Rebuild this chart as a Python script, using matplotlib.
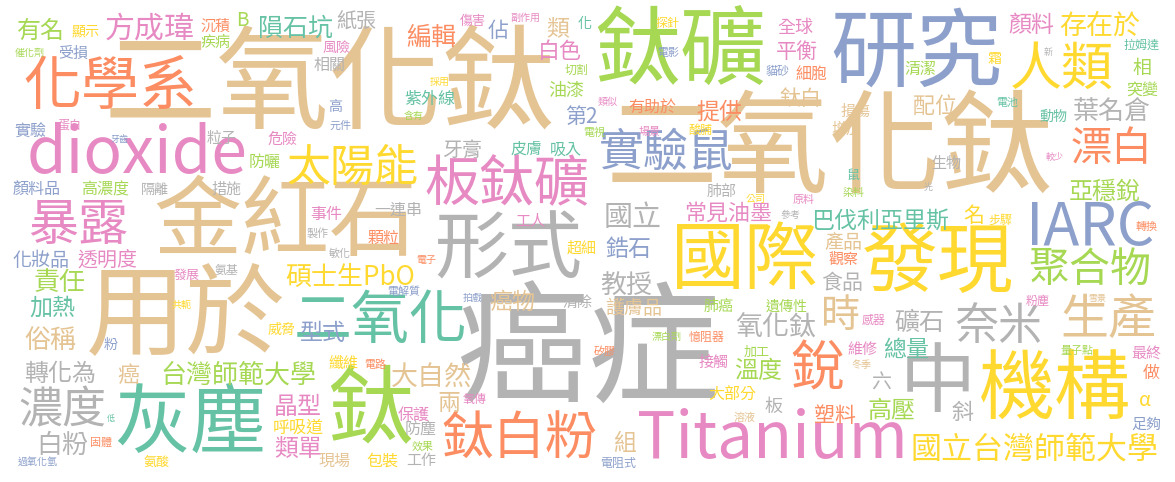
import matplotlib
matplotlib.use("Agg")
import matplotlib.pyplot as plt

# ---- data: words and their weights (font size in px) ----
words = [
    "二氧化鈦", "二氧化鈦", "癌症", "用於", "金紅石", "鈦礦", "研究", "鈦", "灰塵", "發現",
    "國際", "形式", "機構", "中", "Titanium", "dioxide", "IARC", "化學系", "二氧化", "板鈦礦",
    "銳", "人類", "鈦白粉", "暴露", "生產", "實驗鼠", "太陽能", "濃度", "奈米", "漂白",
    "聚合物", "時", "國立台灣師範大學", "方成瑋", "國立", "存在於", "大自然", "氧化鈦", "碩士生PbO", "葉名倉",
    "責任", "俗稱", "教授", "白粉", "台灣師範大學", "隕石坑", "編輯", "礦石", "有名", "轉化為",
    "亞穩銳", "溫度", "晶型", "類單", "高壓", "類", "顏料", "提供", "加熱", "型式",
    "鋯石", "癌物", "巴伐利亞里斯", "兩", "組", "總量", "白色", "配位", "常見油墨", "癌",
    "斜", "佔", "第2", "平衡", "鈦白", "名", "食品", "塑料", "紙張", "牙膏",
    "透明度", "六", "化妝品", "B", "相", "產品", "護膚品", "α", "油漆", "全球",
    "板", "紫外線", "呼吸道", "做", "有助於", "相關", "皮膚", "吸入", "細胞", "清潔",
    "突變", "顏料品", "高濃度", "實驗", "防曬", "事件", "一連串", "顆粒", "纖維", "保護",
    "防塵", "現場", "包裝", "大部分", "工作", "沉積", "疾病", "受損", "粒子", "危險",
    "措施", "損傷", "增加", "生物", "工人", "超細", "清除", "肺部", "觀察", "肺癌",
    "接觸", "維修", "最終", "足夠", "顯示", "化", "風險", "高", "霜", "動物",
    "隔離", "遺傳性", "粉", "威脅", "傷害", "發展", "加工", "氨酸", "鼠", "探針",
    "貓砂", "酸脯", "拉姆達", "蛋白", "氨基", "粉塵", "步驟", "憶阻器", "感器", "電阻式",
    "氧傳", "切割", "電影", "元件", "電視", "場景", "電池", "製作", "敏化", "電解質",
    "原料", "染料", "轉換", "固體", "電路", "效果", "矽膠", "溶液", "量子點", "催化劑",
    "副作用", "採用", "含有", "類似", "電子", "拍戲", "公司", "參考", "共軛", "過氧化氫",
    "漂白劑", "冬季", "牙齒", "新", "較少", "光", "雪景", "低",
]
weights = [
    113, 112, 132, 100, 88, 86, 86, 86, 76, 76,
    74, 74, 76, 76, 64, 64, 59, 58, 58, 55,
    54, 52, 52, 50, 48, 45, 44, 44, 44, 41,
    41, 39, 31, 30, 29, 27, 27, 27, 26, 26,
    26, 26, 26, 26, 26, 25, 25, 25, 24, 24,
    24, 24, 24, 24, 24, 23, 23, 23, 23, 23,
    23, 23, 23, 23, 23, 23, 22, 22, 22, 22,
    22, 21, 21, 21, 21, 21, 21, 21, 20, 20,
    20, 20, 19, 19, 19, 19, 19, 19, 18, 18,
    18, 17, 17, 17, 16, 16, 16, 16, 16, 16,
    16, 16, 16, 16, 16, 16, 16, 16, 15, 16,
    16, 16, 16, 16, 15, 15, 15, 15, 15, 15,
    15, 15, 15, 15, 15, 15, 15, 15, 15, 15,
    15, 15, 15, 15, 14, 14, 14, 14, 14, 14,
    14, 14, 14, 14, 13, 13, 13, 13, 13, 12,
    12, 12, 12, 12, 12, 12, 12, 12, 12, 12,
    12, 12, 11, 11, 11, 11, 11, 11, 11, 11,
    11, 11, 11, 11, 11, 11, 11, 11, 11, 10,
    10, 10, 10, 10, 10, 10, 10, 10, 10, 10,
    10, 10, 9, 9, 9, 9, 9, 8,
]

# ---- layout (word-cloud placement, pixels from top-left) ----
pos_x = [
    330, 830, 588, 186, 285, 680, 916, 370, 190, 938,
    745, 508, 1055, 938, 772, 137, 1090, 110, 381, 507,
    817, 1062, 519, 78, 1108, 666, 352, 62, 998, 1112,
    1090, 840, 1034, 150, 633, 1100, 431, 776, 350, 1112,
    60, 50, 626, 62, 238, 295, 431, 919, 41, 60,
    1105, 758, 298, 298, 892, 558, 1031, 719, 52, 323,
    628, 512, 880, 449, 625, 906, 560, 935, 728, 128,
    962, 498, 581, 797, 800, 974, 842, 835, 356, 462,
    107, 881, 41, 242, 1142, 843, 634, 1145, 566, 795,
    774, 430, 298, 1151, 652, 330, 527, 566, 812, 920,
    1142, 37, 105, 30, 265, 326, 398, 384, 344, 414,
    421, 335, 382, 732, 421, 215, 215, 73, 222, 283,
    226, 856, 846, 946, 530, 582, 578, 722, 844, 719,
    714, 862, 1146, 1146, 86, 585, 337, 335, 995, 1053,
    155, 787, 111, 282, 473, 187, 757, 157, 853, 667,
    778, 700, 1142, 70, 227, 1038, 1000, 707, 874, 618,
    475, 577, 668, 340, 594, 650, 1007, 318, 340, 404,
    804, 854, 1147, 101, 375, 423, 605, 745, 1077, 30,
    525, 440, 414, 608, 426, 473, 756, 791, 182, 38,
    667, 862, 120, 1048, 1055, 928, 1097, 111,
]
pos_y = [
    88, 152, 355, 318, 224, 55, 55, 413, 425, 265,
    262, 252, 392, 384, 440, 155, 228, 88, 322, 185,
    370, 70, 440, 226, 320, 153, 168, 410, 326, 150,
    270, 316, 450, 29, 218, 26, 377, 328, 277, 112,
    283, 340, 285, 445, 375, 29, 38, 323, 31, 374,
    192, 372, 408, 450, 412, 29, 26, 112, 308, 333,
    250, 302, 221, 403, 443, 350, 52, 107, 214, 376,
    413, 31, 117, 52, 99, 216, 283, 416, 22, 150,
    260, 383, 260, 21, 68, 243, 308, 400, 91, 28,
    407, 99, 428, 373, 107, 65, 149, 150, 74, 69,
    90, 189, 190, 132, 162, 214, 210, 238, 364, 415,
    430, 461, 461, 395, 461, 27, 43, 54, 139, 140,
    190, 112, 130, 164, 221, 248, 303, 192, 260, 307,
    363, 350, 354, 425, 31, 24, 48, 107, 59, 117,
    190, 307, 345, 330, 21, 275, 352, 463, 175, 23,
    72, 130, 45, 125, 270, 301, 220, 338, 320, 463,
    400, 70, 53, 126, 133, 132, 103, 233, 254, 292,
    200, 193, 227, 443, 365, 447, 352, 418, 351, 53,
    18, 82, 116, 102, 260, 298, 199, 215, 305, 463,
    337, 365, 139, 52, 157, 187, 299, 419,
]

# Set2-like palette keys
PAL = {"O": "#fc8d62", "G": "#66c2a5", "B": "#8da0cb", "P": "#e78ac3",
       "L": "#a6d854", "Y": "#ffd92f", "T": "#e5c494", "R": "#b3b3b3"}
color_keys = (
    "TTRTTLBLGY"
    "YRYRPPBOGP"
    "OYOPTBYRRO"
    "LTYPRYTRYR"
    "LTRRLGORLR"
    "LLPPLTPOGB"
    "BTGTTGPTPT"
    "RBBPTYRORR"
    "PRBLLTTYLP"
    "RGYOORGGOL"
    "LBLBLPROYP"
    "RTYYROLBRP"
    "RTTRPYRROL"
    "PPPBYGPBYG"
    "RLBYPPLYGY"
    "BYGPRPYOPB"
    "PLBBLPGRRB"
    "PLOOOLOTLL"
    "PYLPOBYRYB"
    "LTBRPRTG"
)

W, H = 1175, 482
fig = plt.figure(figsize=(W / 100, H / 100), dpi=100)
ax = fig.add_axes([0, 0, 1, 1])
ax.set_xlim(0, W)
ax.set_ylim(H, 0)
ax.axis("off")

fam = ["Noto Sans CJK TC", "DejaVu Sans"]
for w, s, x, y, ck in zip(words, weights, pos_x, pos_y, color_keys):
    ax.text(x, y, w, fontsize=s * 0.72, ha="center", va="center",
            color=PAL[ck], family=fam)

fig.savefig("out.png", dpi=100, facecolor="white")
